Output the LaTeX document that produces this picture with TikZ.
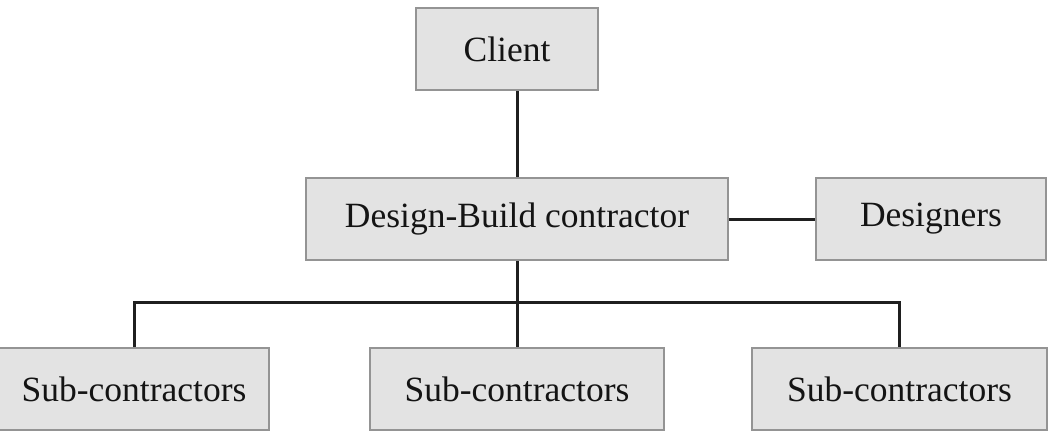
\documentclass[tikz,border=0pt]{standalone}
\usepackage{fontspec}
\setmainfont{Liberation Serif}
\begin{document}
\begin{tikzpicture}[x=1pt,y=-1pt,
  box/.style={draw=black!42, fill=black!11, line width=1.6pt, inner sep=0pt,
    font=\fontsize{35.5}{40}\selectfont, text=black!92},
  link/.style={draw=black!88, line width=3pt}]
\useasboundingbox (0,0) rectangle (1057,447);
% boxes drawn as rectangles via node sizes and centres
\node[box, minimum width=182pt, minimum height=82pt] (client) at (507,49) {Client};
\node[box, minimum width=422pt, minimum height=82pt] (db) at (517,219) {Design-Build contractor};
\node[box, minimum width=230pt, minimum height=82pt] (des) at (931,219) {Designers};
\node[box, minimum width=270pt, minimum height=82pt] (s1) at (134,389) {Sub-contractors};
\node[box, minimum width=294pt, minimum height=82pt] (s2) at (517,389) {Sub-contractors};
\node[box, minimum width=295pt, minimum height=82pt] (s3) at (899.5,389) {Sub-contractors};
% connectors
\draw[link] (db.north) -- (db.north |- client.south);
\draw[link] (db.east) -- (des.west);
\coordinate (bus) at (517,302);
\draw[link] (db.south) -- (bus);
\draw[link] (s1.north) |- (bus) -| (s3.north);
\draw[link] (bus) -- (s2.north);
\end{tikzpicture}
\end{document}
